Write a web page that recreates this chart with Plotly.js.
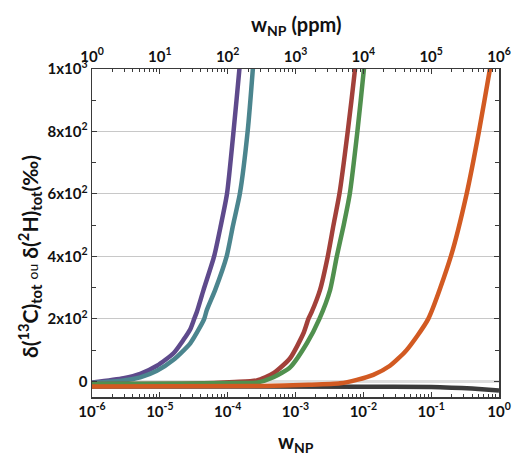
<!DOCTYPE html>
<html>
<head>
<meta charset="utf-8">
<script src="https://cdn.plot.ly/plotly-3.0.1.min.js"></script>
<style>html,body{margin:0;padding:0;background:#fff;}#chart{width:512px;height:455px;}</style>
</head>
<body>
<div id="chart"></div>
<script>
// ---- data ----
const wPurple = [1.0e-6, 2.92e-6, 5.14e-6, 9.06e-6, 1.59e-5, 2.23e-5, 2.81e-5, 3.21e-5, 3.52e-5, 4.41e-5, 6.31e-5, 7.94e-5, 9.77e-5, 1.22e-4, 1.49e-4, 1.82e-4];
const dPurple = [-4, 10, 24, 50, 90, 133, 167, 200, 223, 293, 400, 500, 600, 800, 1000, 1220];
const wTeal = [1.0e-6, 2.92e-6, 5.14e-6, 9.06e-6, 1.59e-5, 2.81e-5, 3.94e-5, 4.51e-5, 4.94e-5, 6.55e-5, 9.66e-5, 1.20e-4, 1.51e-4, 1.97e-4, 2.35e-4, 2.75e-4];
const dTeal = [-5, 3, 13, 34, 69, 122, 175, 200, 229, 293, 400, 500, 600, 800, 1000, 1210];
const wRed = [1e-6, 3.16e-5, 1.26e-4, 2.69e-4, 4.73e-4, 8.32e-4, 1.31e-3, 1.55e-3, 1.74e-3, 2.30e-3, 2.99e-3, 3.63e-3, 4.44e-3, 5.89e-3, 7.55e-3, 8.91e-3];
const dRed = [-8, -7, -2, 3, 26, 74, 154, 200, 223, 293, 400, 500, 600, 800, 1000, 1170];
const wGreen = [1e-6, 3.16e-5, 1.26e-4, 2.69e-4, 4.73e-4, 8.32e-4, 1.47e-3, 2.25e-3, 3.24e-3, 4.06e-3, 5.13e-3, 6.31e-3, 8.17e-3, 1.02e-2, 1.20e-2];
const dGreen = [-8, -7, -5, -4, 13, 45, 122, 200, 293, 400, 500, 600, 800, 1000, 1180];
const wOrange = [1e-6, 3.16e-4, 1.58e-3, 4.54e-3, 8.0e-3, 1.40e-2, 2.47e-2, 4.34e-2, 9.06e-2, 0.195, 0.333, 0.506, 0.735, 0.871];
const dOrange = [-16, -15, -11, -6, 5, 21, 50, 100, 200, 400, 600, 800, 1000, 1100];
const wBlack = [1e-6, 1e-2, 0.1, 0.2, 0.4, 0.63, 1];
const dBlack = [-16, -17, -18, -20, -23, -26, -29];

const xTickVals = [1e-6, 1e-5, 1e-4, 1e-3, 1e-2, 1e-1, 1];
const xTickText = ['10<sup>-6</sup>', '10<sup>-5</sup>', '10<sup>-4</sup>', '10<sup>-3</sup>', '10<sup>-2</sup>', '10<sup>-1</sup>', '10<sup>0</sup>'];
const topTickVals = [1, 10, 100, 1e3, 1e4, 1e5, 1e6];
const topTickText = ['10<sup>0</sup>', '10<sup>1</sup>', '10<sup>2</sup>', '10<sup>3</sup>', '10<sup>4</sup>', '10<sup>5</sup>', '10<sup>6</sup>'];
const yTickVals = [0, 200, 400, 600, 800, 1000];
const yTickText = ['0', '2x10<sup>2</sup>', '4x10<sup>2</sup>', '6x10<sup>2</sup>', '8x10<sup>2</sup>', '1x10<sup>3</sup>'];

const FONT = 'Lato, "Open Sans", sans-serif';
const LW = 4.5;
function line(x, y, color) {
  return {x: x, y: y, type: 'scatter', mode: 'lines', line: {color: color, width: LW, shape: 'spline', smoothing: 0.6}, hoverinfo: 'skip', showlegend: false};
}
const traces = [
  line(wBlack, dBlack, '#3b3b3b'),
  line(wPurple, dPurple, '#5e4a8c'),
  line(wTeal, dTeal, '#4b858e'),
  line(wRed, dRed, '#a2403a'),
  line(wGreen, dGreen, '#50904e'),
  line(wOrange, dOrange, '#d25a22'),
  {x: topTickVals, y: [null,null,null,null,null,null,null], xaxis: 'x2', type: 'scatter', mode: 'lines', showlegend: false, hoverinfo: 'skip'}
];

const axLine = '#3a3a3a';
const tickFont = {family: FONT, size: 15, color: '#111', weight: 'bold'};
const titleFont = {family: FONT, size: 20, color: '#111', weight: 'bold'};
const layout = {
  width: 512, height: 455,
  margin: {l: 92, r: 13, t: 69, b: 58},
  paper_bgcolor: '#fff', plot_bgcolor: '#fff',
  showlegend: false,
  xaxis: {
    type: 'log', range: [-6, 0],
    tickmode: 'array', tickvals: xTickVals, ticktext: xTickText,
    ticks: 'inside', ticklen: 5, tickwidth: 1, tickcolor: axLine,
    minor: {dtick: 'D1', ticks: 'inside', ticklen: 3, tickcolor: axLine, showgrid: false},
    showline: true, linecolor: axLine, linewidth: 1.5, mirror: true,
    showgrid: false, zeroline: false,
    tickfont: tickFont
  },
  xaxis2: {
    type: 'log', range: [0, 6], overlaying: 'x', side: 'top', anchor: 'y',
    tickmode: 'array', tickvals: topTickVals, ticktext: topTickText,
    ticks: 'inside', ticklen: 5, tickwidth: 1, tickcolor: axLine,
    minor: {dtick: 'D1', ticks: 'inside', ticklen: 3, tickcolor: axLine, showgrid: false},
    showline: true, linecolor: axLine, linewidth: 1.5,
    showgrid: false, zeroline: false,
    tickfont: tickFont
  },
  yaxis: {
    range: [-50, 1000],
    tickmode: 'array', tickvals: yTickVals, ticktext: yTickText,
    ticks: 'inside', ticklen: 5, tickwidth: 1, tickcolor: axLine,
    minor: {dtick: 100, tick0: 0, ticks: 'inside', ticklen: 4, tickcolor: axLine, showgrid: false},
    showline: true, linecolor: axLine, linewidth: 1.5, mirror: 'ticks',
    showgrid: true, gridcolor: '#c8c8c8', gridwidth: 1,
    zeroline: true, zerolinecolor: '#dedede', zerolinewidth: 3,
    tickfont: tickFont
  },
  annotations: [
    {text: 'w<sub>NP</sub> (ppm)', xref: 'paper', yref: 'paper', x: 0.5, y: 1, xanchor: 'center', yanchor: 'middle', yshift: 44, showarrow: false, font: titleFont},
    {text: 'w<sub>NP</sub>', xref: 'paper', yref: 'paper', x: 0.5, y: 0, xanchor: 'center', yanchor: 'middle', yshift: -45, showarrow: false, font: titleFont},
    {text: 'δ(<sup>13</sup>C)<sub>tot</sub> <span style="font-weight:normal;font-size:14px">ou</span> δ(<sup>2</sup>H)<sub>tot</sub>(‰)', xref: 'paper', yref: 'paper', x: 0, y: 0.5, xanchor: 'center', yanchor: 'middle', xshift: -63, yshift: -24, textangle: -90, showarrow: false, font: {family: FONT, size: 21, color: '#111', weight: 'bold'}}
  ]
};

Plotly.newPlot('chart', traces, layout, {displayModeBar: false, staticPlot: true});
</script>
</body>
</html>
